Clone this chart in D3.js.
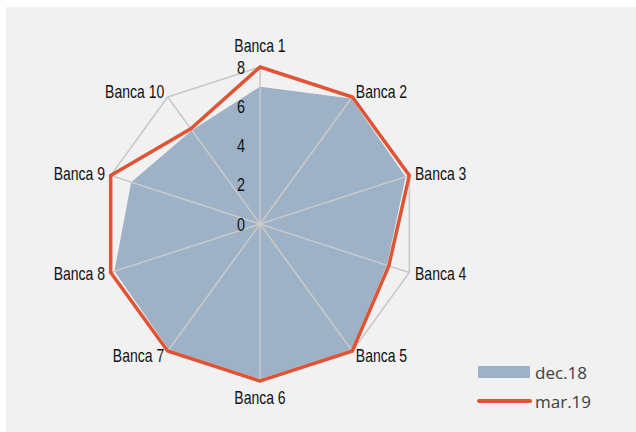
<!DOCTYPE html>
<html><head><meta charset="utf-8">
<script src="https://cdn.jsdelivr.net/npm/d3@7"></script>
<style>
html,body{margin:0;padding:0;background:#fff;}
</style></head>
<body>
<svg id="chart" width="636" height="432"></svg>
<script>
const categories = ["Banca 1","Banca 2","Banca 3","Banca 4","Banca 5","Banca 6","Banca 7","Banca 8","Banca 9","Banca 10"];
const dec18 = [7.0, 7.9, 7.8, 6.8, 7.9, 7.9, 7.9, 7.8, 6.9, 5.9];
const mar19 = [8.0, 8.0, 8.0, 6.9, 8.0, 8.0, 8.0, 8.0, 8.0, 6.0];
const tickValues = [0, 2, 4, 6, 8];
const seriesNames = ["dec.18", "mar.19"];

const svg = d3.select("#chart");
const W = 636, H = 432;
const cx = 260, cy = 224, R = 157;
const fillColor = "#9db1c7", lineColor = "#df5434", gridColor = "#c9c9c9";
const condFont = "'Liberation Sans',Arial,sans-serif";
const narrow = 0.8;

svg.append("rect").attr("x", 6).attr("y", 7).attr("width", W - 6).attr("height", H - 7).attr("fill", "#f1f1f1");

const r = d3.scaleLinear().domain([0, 8]).range([0, R]);
const ang = d3.scaleLinear().domain([0, categories.length]).range([0, 2 * Math.PI]);
const g = svg.append("g").attr("transform", `translate(${cx},${cy})`);

const pt = (i, v) => [r(v) * Math.sin(ang(i)), -r(v) * Math.cos(ang(i))];

// series dec.18 area
const radial = d3.lineRadial().angle((d, i) => ang(i)).radius(d => r(d)).curve(d3.curveLinearClosed);
g.append("path").datum(dec18).attr("d", radial).attr("fill", fillColor);

// grid spokes
g.selectAll("line.spoke").data(categories).join("line").attr("class", "spoke")
  .attr("x1", 0).attr("y1", 0)
  .attr("x2", (d, i) => pt(i, 8)[0]).attr("y2", (d, i) => pt(i, 8)[1])
  .attr("stroke", gridColor).attr("stroke-width", 1.6);
// outer ring
g.append("path").datum(categories.map(() => 8)).attr("d", radial)
  .attr("fill", "none").attr("stroke", gridColor).attr("stroke-width", 1.6);

// series mar.19
g.append("path").datum(mar19).attr("d", radial)
  .attr("fill", "none").attr("stroke", lineColor).attr("stroke-width", 3.5).attr("stroke-linejoin", "miter");

// tick labels
g.selectAll("g.tick").data(tickValues).join("g").attr("class", "tick")
  .attr("transform", d => `translate(-15,${-r(d)}) scale(${narrow},1)`)
  .append("text")
  .attr("text-anchor", "end").attr("dominant-baseline", "central")
  .style("font-family", condFont).style("font-size", "18px").attr("fill", "#111")
  .text(d => d);

// category labels
g.selectAll("g.cat").data(categories).join("g").attr("class", "cat")
  .attr("transform", (d, i) => {
    const x = (R + 6) * Math.sin(ang(i));
    let y = -(R + 6) * Math.cos(ang(i));
    if (i === 0) y -= 15;
    if (i === 5) y += 11;
    return `translate(${x},${y}) scale(${narrow},1)`;
  })
  .append("text")
  .attr("text-anchor", (d, i) => {
    const s = Math.sin(ang(i));
    return Math.abs(s) < 0.1 ? "middle" : (s > 0 ? "start" : "end");
  })
  .attr("dominant-baseline", "central")
  .style("font-family", condFont).style("font-size", "17.5px").attr("fill", "#111")
  .text(d => d);

// legend
const lg = svg.append("g");
lg.append("rect").attr("x", 478).attr("y", 366).attr("width", 52).attr("height", 12).attr("fill", fillColor);
lg.append("line").attr("x1", 479).attr("x2", 530).attr("y1", 401).attr("y2", 401)
  .attr("stroke", lineColor).attr("stroke-width", 4).attr("stroke-linecap", "round");
lg.selectAll("text").data(seriesNames).join("text")
  .attr("x", 535).attr("y", (d, i) => 372 + i * 29)
  .attr("dominant-baseline", "central")
  .style("font-family", "'Open Sans',sans-serif").style("font-size", "17px").attr("fill", "#404040")
  .text(d => d);
</script>
</body></html>
